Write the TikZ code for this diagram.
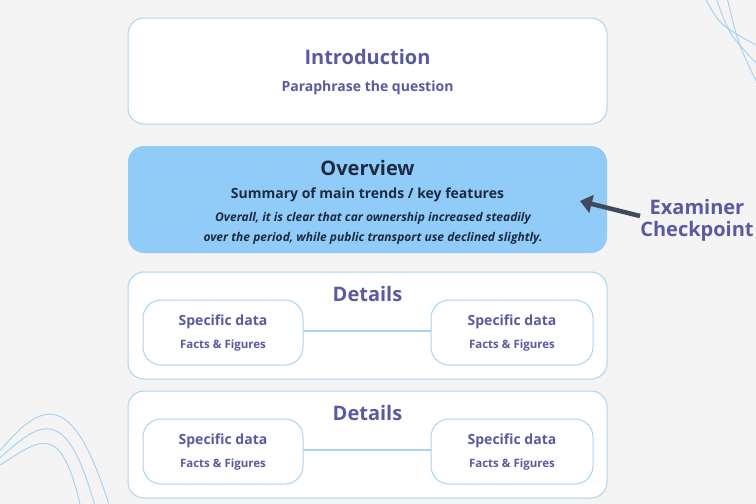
\documentclass[tikz,border=0pt]{standalone}
\usepackage{fontspec}
\setmainfont{Open Sans}
\usetikzlibrary{arrows.meta}
\definecolor{bg}{HTML}{F4F4F4}
\definecolor{edge}{HTML}{A9D4F2}
\definecolor{pur}{HTML}{5A5AA0}
\definecolor{ovf}{HTML}{91CBF8}
\definecolor{navy}{HTML}{1E2A40}
\begin{document}
\begin{tikzpicture}[x=1pt,y=-1pt,
  box/.style={draw=edge,line width=1pt,fill=white,rounded corners=16pt},
  ibox/.style={draw=edge,line width=1pt,fill=white,rounded corners=18pt},
  ttl/.style={text=pur,font=\bfseries\fontsize{20}{22}\selectfont},
  sub/.style={text=pur,font=\bfseries\fontsize{14}{16}\selectfont},
  sm/.style={text=pur,font=\bfseries\fontsize{11.5}{13}\selectfont},
  deco/.style={draw=edge,line width=1pt}]
\fill[bg] (0,0) rectangle (756,504);
\useasboundingbox (0,0) rectangle (756,504);
% decorations
\foreach \r in {0,18,36}{
  \draw[deco] (0,{465-\r*0.4}) .. controls (40,{440-\r}) and ({60+\r*0.3},{420-\r}) .. ({80+\r*0.8},{504});
  \draw[deco] ({706+\r*0.6},0) .. controls ({720+\r*0.5},{25+\r*0.5}) .. (756,{45+\r});
}
% intro
\draw[box] (128,18) rectangle (607,124);
\node[ttl] (it) at (367.5,57) {Introduction};
\node[sub] (is) at (367.5,88) {Paraphrase the question};
% overview
\draw[fill=ovf,draw=none,rounded corners=16pt] (128,146) rectangle (607,253);
\node[text=navy,font=\bfseries\fontsize{20}{22}\selectfont] (ot) at (367.5,168) {Overview};
\node[text=navy,font=\bfseries\fontsize{14}{16}\selectfont] (os) at (367.5,195) {Summary of main trends / key features};
\node[text=navy,font=\bfseries\itshape\fontsize{12}{20}\selectfont,align=center] (oi) at (373,228)
 {Overall, it is clear that car ownership increased steadily\\over the period, while public transport use declined slightly.};
% arrow
\coordinate (as) at (640,216);
\coordinate (ae) at (580,201);
\draw[navy!85,line width=4.5pt,-{Triangle[length=12pt,width=18pt]}] (as) -- (ae);
\node[text=pur,font=\bfseries\fontsize{20}{22}\selectfont,align=center] (ex) at (697,220) {Examiner\\Checkpoint};
% details
\foreach \y/\n in {272/a,391/b}{
  \draw[box] (128,\y) rectangle (607,\y+107);
  \node[ttl] (t\n) at (367.5,\y+22) {Details};
  \draw[ibox] (143,\y+28) rectangle (303,\y+93);
  \draw[ibox] (431,\y+28) rectangle (593,\y+93);
  \coordinate (l\n) at (303,\y+59);
  \coordinate (r\n) at (431,\y+59);
  \draw[edge,line width=1.5pt] (l\n) -- (r\n);
  \node[sub] (sa\n) at (223,\y+50) {Specific data};
  \node[sm] (fa\n) at (223,\y+74) {Facts \& Figures};
  \node[sub] (sb\n) at (512,\y+50) {Specific data};
  \node[sm] (fb\n) at (512,\y+74) {Facts \& Figures};
}
\end{tikzpicture}
\end{document}
